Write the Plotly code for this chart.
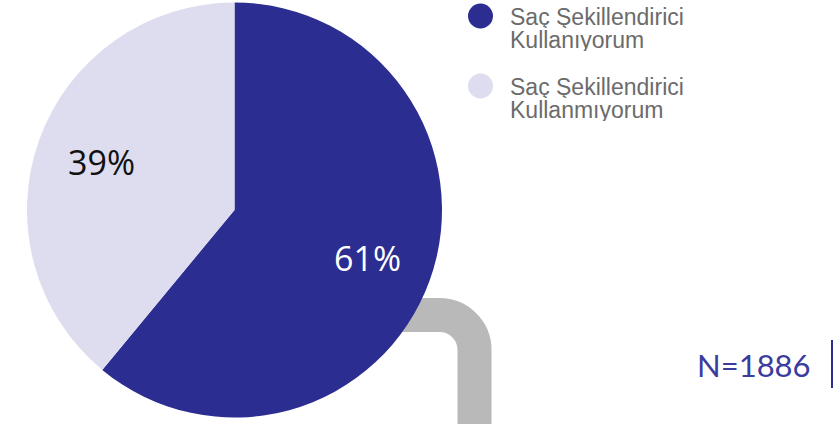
import math
import plotly.graph_objects as go

# Survey result: hair styling product usage
labels = ["Saç Şekillendirici Kullanıyorum", "Saç Şekillendirici Kullanmıyorum"]
legend_lines = [["Saç Şekillendirici", "Kullanıyorum"], ["Saç Şekillendirici", "Kullanmıyorum"]]
values = [61, 39]
colors = ["#2B2D90", "#DDDDEF"]
label_colors = ["#FFFFFF", "#111111"]
sample_size = 1886

W, H = 833, 424


def px(x):
    return x / W


def py(y):
    return 1 - y / H


# pie placement in pixels
pie_left, pie_right, pie_top, pie_bottom = 27, 442, 2.5, 417.5
pcx = (pie_left + pie_right) / 2
pcy = (pie_top + pie_bottom) / 2
R = (pie_right - pie_left) / 2

fig = go.Figure()

fig.add_trace(go.Pie(
    labels=labels,
    values=values,
    sort=False,
    direction="clockwise",
    rotation=0,
    marker=dict(colors=colors, line=dict(width=0)),
    textinfo="none",
    domain=dict(x=[px(pie_left), px(pie_right)], y=[py(pie_bottom), py(pie_top)]),
    showlegend=False,
    hoverinfo="label+percent",
))

annotations = []

# percentage labels at the middle angle of each slice
total = sum(values)
cum = 0
for v, c in zip(values, label_colors):
    mid = (cum + v / 2) / total * 2 * math.pi
    cum += v
    lx = pcx + 0.68 * R * math.sin(mid)
    ly = pcy - 0.68 * R * math.cos(mid)
    annotations.append(dict(
        x=px(lx), y=py(ly), xref="paper", yref="paper",
        xanchor="center", yanchor="middle", showarrow=False,
        text=f"{round(v / total * 100)}%",
        font=dict(family="Open Sans", size=34, color=c),
    ))

# grey pipe running out from behind the pie
k = 0.5523
r = 35
cx, cy = 474.5, 315
x0 = 380
path = (
    f"M {px(x0)} {py(cy)} L {px(cx - r)} {py(cy)} "
    f"C {px(cx - r + k * r)} {py(cy)} {px(cx)} {py(cy + r - k * r)} {px(cx)} {py(cy + r)} "
    f"L {px(cx)} {py(440)}"
)
shapes = [dict(type="path", xref="paper", yref="paper", path=path, layer="below",
               line=dict(color="#B9B9B9", width=34))]

# divider beside the sample size
shapes.append(dict(type="line", xref="paper", yref="paper",
                   x0=px(832), x1=px(832), y0=py(340), y1=py(388),
                   line=dict(color="#2B2D90", width=2)))

# legend markers and text
marker_y = [16, 86]
for i, (lines, col) in enumerate(zip(legend_lines, colors)):
    yc = marker_y[i]
    shapes.append(dict(type="circle", xref="paper", yref="paper",
                       x0=px(468), x1=px(493), y0=py(yc + 12.5), y1=py(yc - 12.5),
                       fillcolor=col, line=dict(width=0)))
    for j, t in enumerate(lines):
        annotations.append(dict(
            x=px(509), y=py(yc + 1 + 23 * j), xref="paper", yref="paper",
            xanchor="left", yanchor="middle", showarrow=False, text=t,
            height=22, borderpad=0,
            font=dict(family="Liberation Sans", size=23, color="#6B6B6B"),
        ))

annotations.append(dict(
    x=px(813), y=py(365), xref="paper", yref="paper", xanchor="right", yanchor="middle",
    showarrow=False, text=f"N={sample_size}",
    font=dict(family="Lato", size=31, color="#3A3C9E"),
))

fig.update_layout(
    width=W, height=H,
    margin=dict(l=0, r=0, t=0, b=0),
    paper_bgcolor="white",
    plot_bgcolor="white",
    shapes=shapes,
    annotations=annotations,
)

fig.write_html("out.html")
